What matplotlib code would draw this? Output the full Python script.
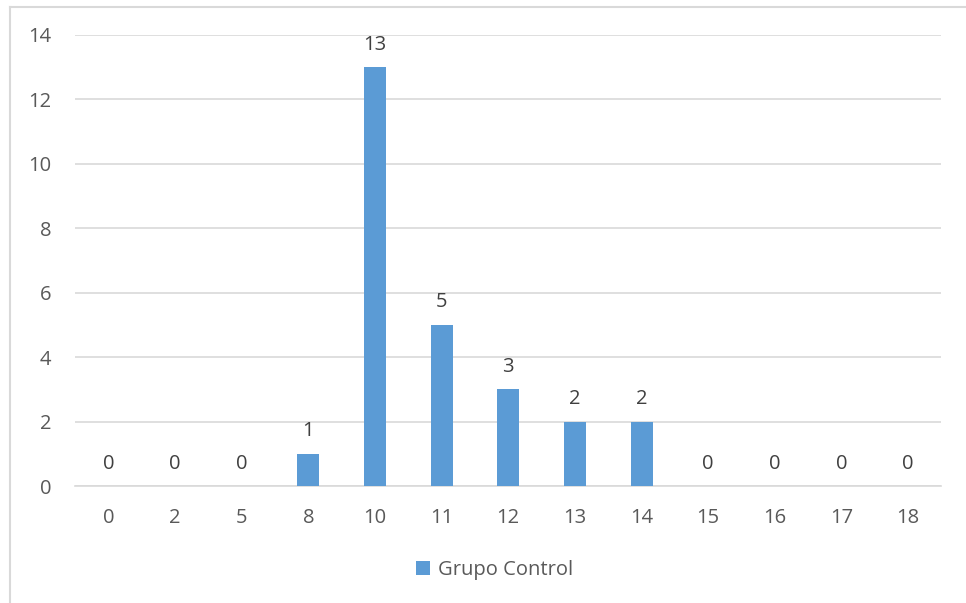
import matplotlib.pyplot as plt
from matplotlib.lines import Line2D
import numpy as np

plt.rcParams['font.family'] = ['Open Sans', 'DejaVu Sans']

categorias = ['0', '2', '5', '8', '10', '11', '12', '13', '14', '15', '16', '17', '18']
grupo_control = [0, 0, 0, 1, 13, 5, 3, 2, 2, 0, 0, 0, 0]

azul = '#5B9BD5'
gris_texto = '#595959'
gris_linea = '#D9D9D9'
tam = 14.5

fig = plt.figure(figsize=(9.66, 6.03), dpi=100)
ax = fig.add_axes([0.0776, 0.194, 0.897, 0.748])

x = np.arange(len(categorias))
barras = ax.bar(x, grupo_control, width=0.33, color=azul, label='Grupo Control', zorder=3)

for xi, v in zip(x, grupo_control):
    ax.annotate(str(v), (xi, v), xytext=(0, 9), textcoords='offset points',
                ha='center', va='bottom', fontsize=tam, color='#404040')

ax.set_xlim(-0.5, len(categorias) - 0.5)
ax.set_ylim(0, 14)
ax.set_yticks(range(0, 15, 2))
ax.set_xticks(x)
ax.set_xticklabels(categorias)
ax.tick_params(axis='both', length=0, labelsize=tam, colors=gris_texto)
ax.tick_params(axis='x', pad=16)
ax.tick_params(axis='y', pad=17)
ax.grid(axis='y', color=gris_linea, linewidth=1.2, zorder=0)
for lado in ['top', 'right', 'left']:
    ax.spines[lado].set_visible(False)
ax.spines['bottom'].set_color(gris_linea)
ax.spines['bottom'].set_linewidth(1.2)

fig.legend(handles=[barras], labels=['Grupo Control'], loc='center',
           bbox_to_anchor=(0.512, 0.055), frameon=False, fontsize=tam,
           labelcolor=gris_texto, handlelength=0.7, handleheight=0.7, handletextpad=0.4)

# marco exterior del gráfico (izquierda y arriba)
x0, y0 = 9.5 / 966, 1 - 6.5 / 603
fig.add_artist(Line2D([x0, x0], [0, y0], transform=fig.transFigure,
                      color=gris_linea, linewidth=1.5))
fig.add_artist(Line2D([x0, 1], [y0, y0], transform=fig.transFigure,
                      color=gris_linea, linewidth=1.5))

fig.savefig('out.png', dpi=100)
